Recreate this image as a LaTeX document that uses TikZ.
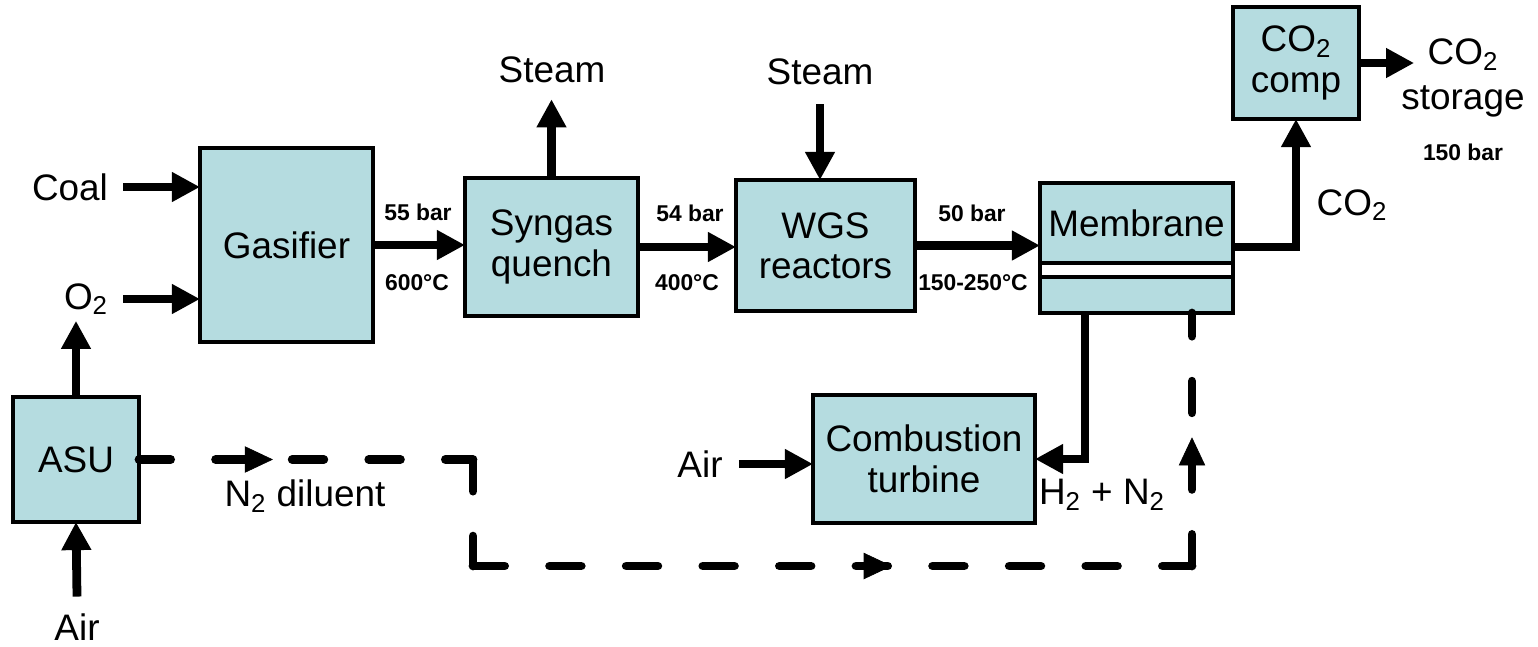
\documentclass[tikz,border=0pt]{standalone}
\usepackage{fontspec}
\setmainfont{Liberation Sans}
\usepackage{tikz}
\usetikzlibrary{positioning,arrows.meta,decorations.markings}
\usepackage{xcolor}
\definecolor{unitblue}{HTML}{B5DCE0}

\tikzset{
  unit/.style={draw, line width=2pt, fill=unitblue, outer sep=0pt, inner sep=0pt,
    align=center, font=\fontsize{21}{23}\selectfont},
  tag/.style={align=center, font=\fontsize{21}{23}\selectfont},
  cond/.style={inner sep=1pt, font=\fontsize{13}{15}\selectfont\bfseries},
  flow/.style={line width=5pt, -{Triangle[length=16pt,width=16pt]}},
  ndash/.style={line width=5pt, line cap=round, dash pattern=on 18pt off 25.6pt},
  nmarks/.style={decorate, decoration={markings,
      mark=at position 2.68cm with {\arrow{Triangle[length=16pt,width=15pt]}},
      mark=at position 17.19cm with {\arrow{Triangle[length=16pt,width=15pt]}},
      mark=at position 25.77cm with {\arrow{Triangle[length=16pt,width=15pt]}}}}
}

\begin{document}
\begin{tikzpicture}[x=0.02cm, y=-0.02cm]
\useasboundingbox (0,0) rectangle (1538,646);

% --- process units ---
\node[unit, minimum width=3.46cm, minimum height=3.88cm] (gas) at (286.5,245) {Gasifier};
\node[unit, minimum width=3.46cm, minimum height=2.76cm] (quench) at (551.5,247) {Syngas\\quench};
\node[unit, minimum width=3.58cm, minimum height=2.62cm] (wgs) at (825.5,245.5) {WGS\\reactors};
\node[unit, minimum width=3.86cm, minimum height=1.6cm] (mem) at (1136.5,223) {Membrane};
\node[unit, fill=white, minimum width=3.86cm, minimum height=0.28cm, below=0pt of mem] (strip) {};
\node[unit, minimum width=3.86cm, minimum height=0.72cm, below=0pt of strip] (memlow) {};
\node[unit, minimum width=2.52cm, minimum height=2.24cm] (comp) at (1296,63) {CO\textsubscript{2}\\comp};
\node[unit, minimum width=2.52cm, minimum height=2.5cm] (asu) at (76,459.5) {ASU};
\node[unit, minimum width=4.44cm, minimum height=2.56cm] (turb) at (924,459) {Combustion\\turbine};

% --- stream names ---
\node[tag] (coal) at (70,187) {Coal};
\node[tag] (o2) at (86,299) {O\textsubscript{2}};
\node[tag, inner sep=1pt] (aira) at (77,627) {Air};
\node[tag] (steama) at (552,70) {Steam};
\node[tag] (steamb) at (820,72) {Steam};
\node[tag] (airb) at (700,464) {Air};
\node[tag] (co2) at (1352,205) {CO\textsubscript{2}};
\node[tag] (h2n2) at (1102,495) {H\textsubscript{2} + N\textsubscript{2}};
\node[tag] (n2dil) at (305,496) {N\textsubscript{2} diluent};
\node[tag, inner sep=0pt, font=\fontsize{21}{25.5}\selectfont] (store) at (1463,78) {CO\textsubscript{2}\\storage};

% --- conditions ---
\node[cond] (p55) at (418,212) {55 bar};
\node[cond] (t600) at (417,283) {600°C};
\node[cond] (p54) at (690,213) {54 bar};
\node[cond] (t400) at (687,283) {400°C};
\node[cond] (p50) at (972,213) {50 bar};
\node[cond] (t150) at (973,283) {150-250°C};
\node[cond] (p150) at (1463,152) {150 bar};

% --- streams ---
\draw[flow] ([xshift=0.18cm]coal.east) -- (coal.east -| gas.west);
\draw[flow] ([xshift=0.18cm]o2.east) -- (o2.east -| gas.west);
\draw[flow] (asu.north) -- (asu.north |- o2.south);
\draw[flow] ([yshift=0.3cm]aira.north) -- (asu.south);
\draw[flow] (gas.east) -- (gas.east -| quench.west);
\draw[flow] (quench.north) -- ([yshift=-0.2cm]quench.north |- steama.south);
\draw[flow] (quench.east) -- (quench.east -| wgs.west);
\draw[flow] ([yshift=-0.26cm]steamb.south) -- (steamb.south |- wgs.north);
\draw[flow] (wgs.east) -- (wgs.east -| mem.west);
\draw[flow] ([yshift=-0.48cm]mem.east) -| (comp.south);
\draw[flow] (comp.east) -- ([xshift=0.26cm]comp.east -| store.west);
\draw[flow] ([xshift=-1.03cm]memlow.south) |- (turb.east);
\draw[flow] ([xshift=0.2cm]airb.east) -- (airb.east -| turb.west);

% --- nitrogen diluent ---
\coordinate (ndrop) at (473,566);
\coordinate (nin) at ([xshift=-0.82cm]memlow.south east);
\draw[ndash] (asu.east) -- (asu.east -| ndrop)
  (asu.east -| ndrop) -- (ndrop)
  (ndrop) -- (ndrop -| nin)
  (ndrop -| nin) -- (nin);
\path[nmarks] (asu.east) -| (ndrop) -| (nin);

\end{tikzpicture}
\end{document}
